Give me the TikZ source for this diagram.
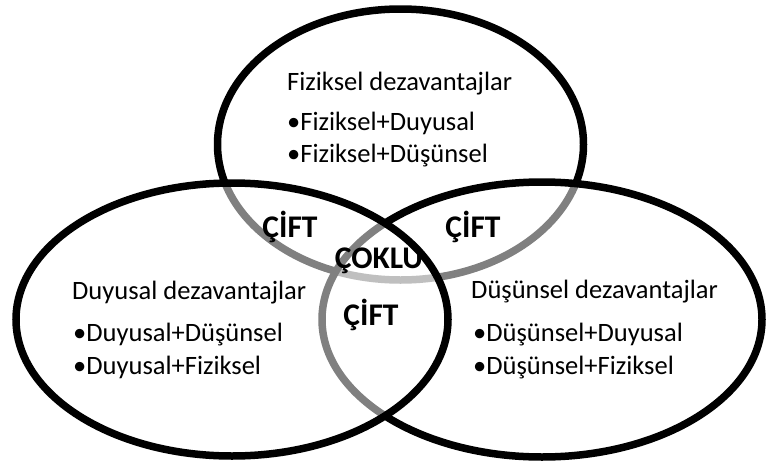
\documentclass[tikz,border=0pt]{standalone}
\usepackage{fontspec}
\setmainfont{Carlito}
\begin{document}
\begin{tikzpicture}[x=1pt,y=-1pt,
  ring/.style={draw=black,line width=7.5pt},
  veil/.style={fill=white,fill opacity=0.5},
  txt/.style={anchor=base west,inner sep=0pt,font=\fontsize{26.5}{30}\selectfont},
  lbl/.style={anchor=base,inner sep=0pt,font=\fontsize{31.5}{36}\selectfont\bfseries}]
\useasboundingbox (0,0) rectangle (766,461);
% top circle (bottom layer)
\draw[ring] (400.5,144.5) ellipse [x radius=183, y radius=135.5];
% right circle (middle layer)
\fill[veil] (542,319.5) ellipse [x radius=220, y radius=137.5];
\draw[ring] (542,319.5) ellipse [x radius=220, y radius=137.5];
% left circle (top layer)
\fill[veil] (232,319.5) ellipse [x radius=216, y radius=136.5];
\draw[ring] (232,319.5) ellipse [x radius=216, y radius=136.5];
% top texts
\node[txt] (t1) at (287,90) {Fiziksel dezavantajlar};
\node[txt] (t2) at (287,130) {•Fiziksel+Duyusal};
\node[txt] (t3) at (287,162) {•Fiziksel+Düşünsel};
% left texts
\node[txt] (l1) at (72,299) {Duyusal dezavantajlar};
\node[txt] (l2) at (73,341) {•Duyusal+Düşünsel};
\node[txt] (l3) at (73,374) {•Duyusal+Fiziksel};
% right texts
\node[txt] (r1) at (471,298) {Düşünsel dezavantajlar};
\node[txt] (r2) at (473,341) {•Düşünsel+Duyusal};
\node[txt] (r3) at (473,374) {•Düşünsel+Fiziksel};
% overlap labels
\node[lbl] (c1) at (290,237) {ÇİFT};
\node[lbl] (c2) at (473,237) {ÇİFT};
\node[lbl] (c3) at (379,268) {ÇOKLU};
\node[lbl] (c4) at (371,325) {ÇİFT};
\end{tikzpicture}
\end{document}
